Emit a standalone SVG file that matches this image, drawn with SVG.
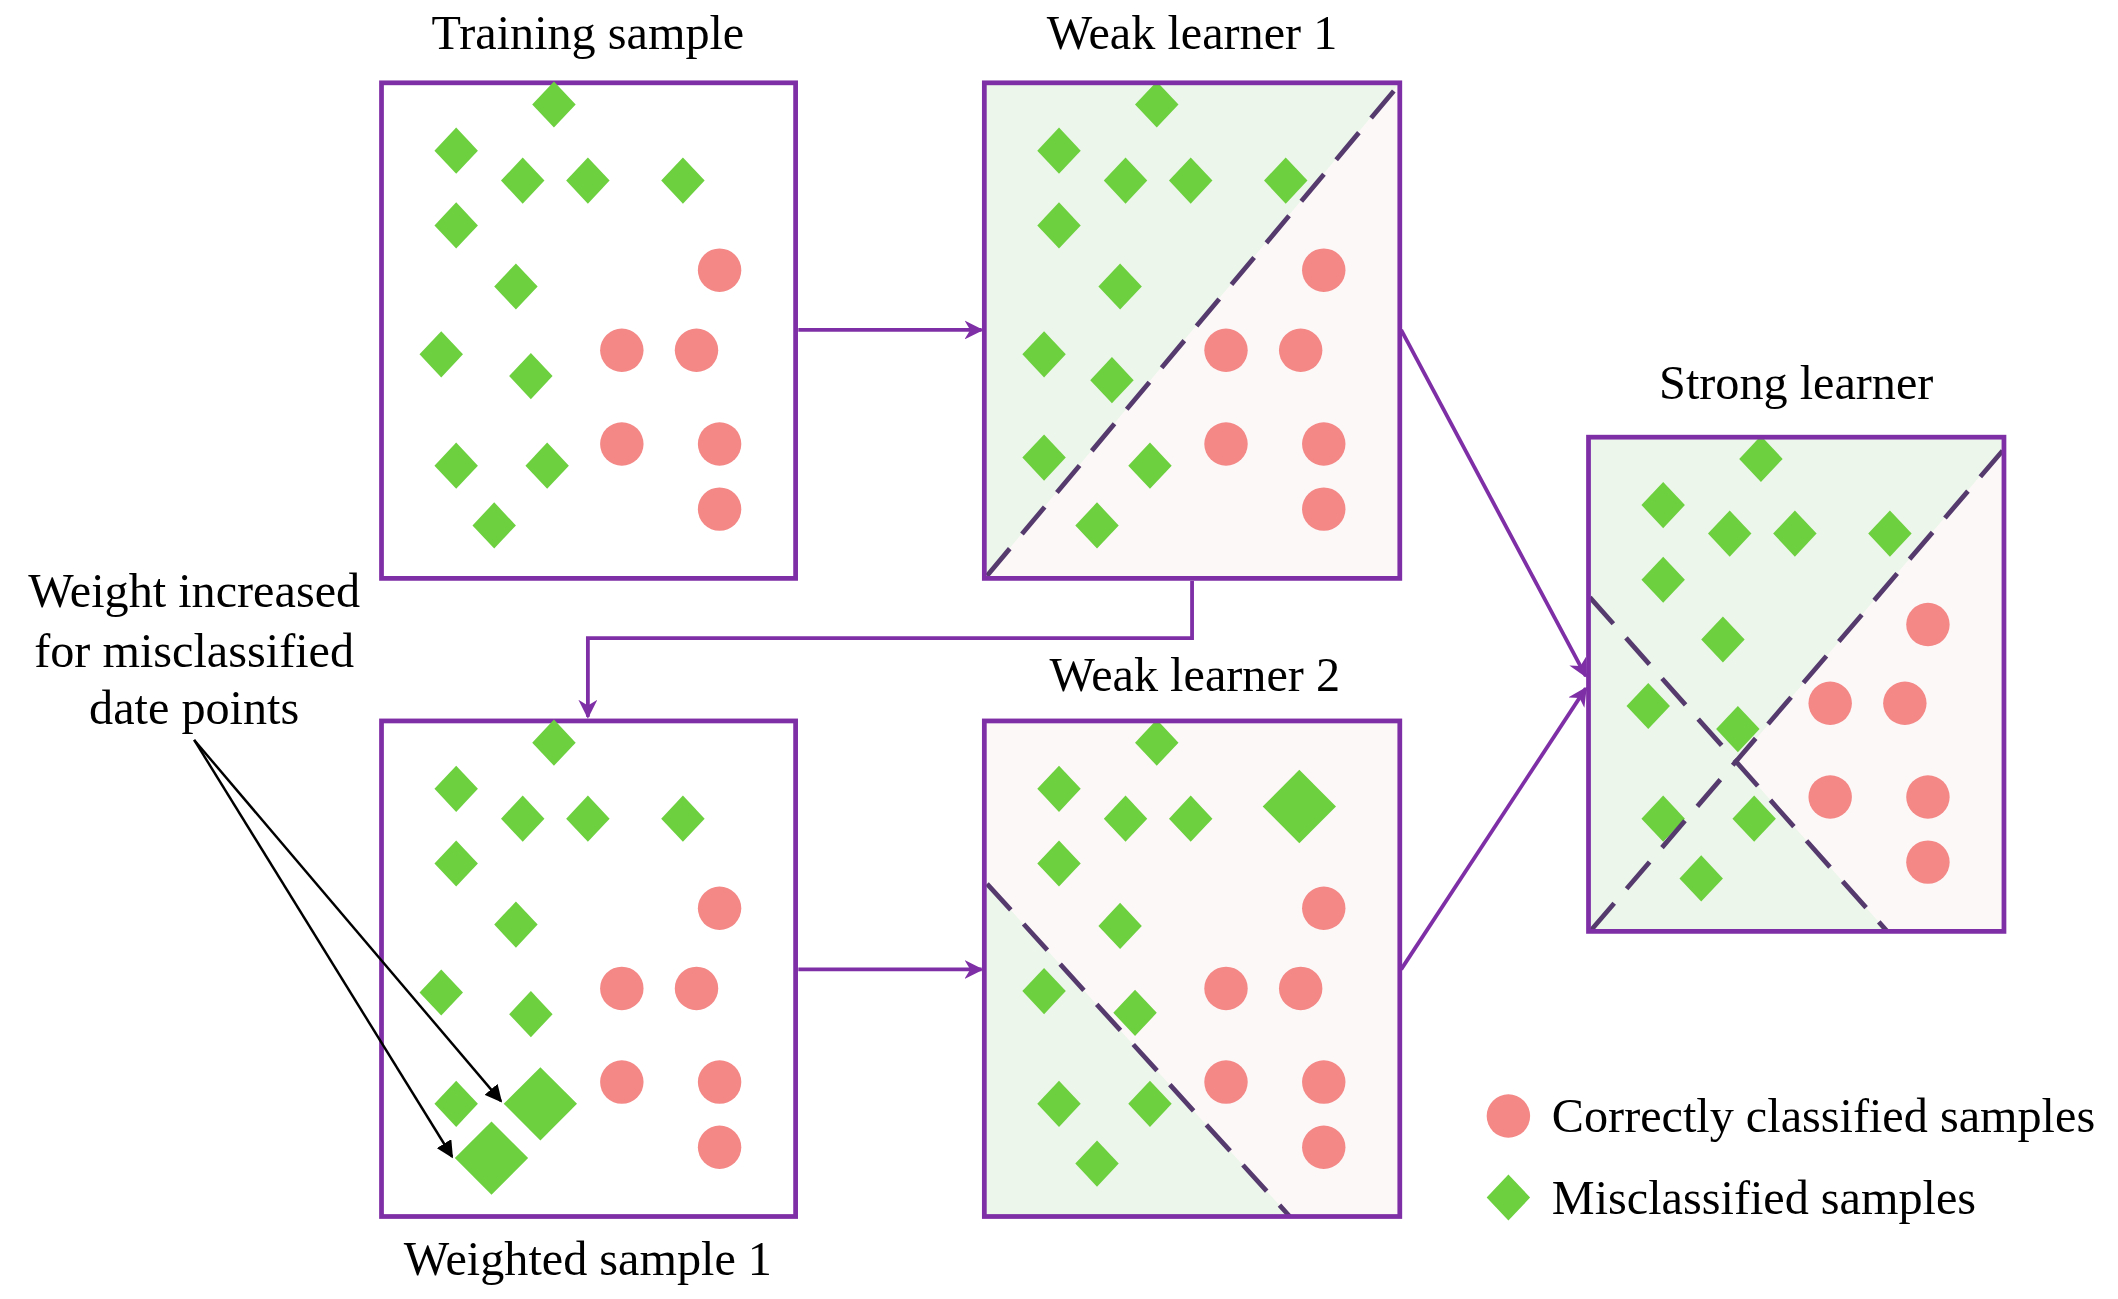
<svg xmlns="http://www.w3.org/2000/svg" xmlns:xlink="http://www.w3.org/1999/xlink" width="2118" height="1299" viewBox="0 0 2118 1299">
<style>
.t{font-family:"Liberation Serif",serif;font-size:35.5px;fill:#000}
.box{fill:none;stroke:#7f2fa6;stroke-width:3.5}
.d{fill:#6cd03f}
.c{fill:#f38887}
.dash{stroke:#553a6e;stroke-width:3.5;stroke-dasharray:26,14;fill:none}
.con{stroke:#7f2fa6;stroke-width:2.8;fill:none}
.blk{stroke:#000;stroke-width:1.8;fill:none}
</style>
<defs>
<path id="dm" d="M0,-17 L16,0 L0,17 L-16,0 Z"/>
<path id="dmb" d="M0,-27 L27,0 L0,27 L-27,0 Z"/>
<marker id="ap" viewBox="0 0 10 10" refX="9" refY="5" markerWidth="5" markerHeight="5" orient="auto"><path d="M0,0 L10,5 L0,10 L3,5 Z" fill="#7f2fa6"/></marker>
<marker id="ab" viewBox="0 0 10 10" refX="9" refY="5" markerWidth="7" markerHeight="7" orient="auto"><path d="M0,0 L10,5 L0,10 Z" fill="#000"/></marker>
</defs>
<rect width="2118" height="1299" fill="#fff"/>
<g transform="scale(1.3577)">
<g id="training">
<text class="t" x="433" y="36" text-anchor="middle">Training sample</text>
<rect class="box" x="281" y="61" width="305" height="365"/>
<g class="d"><use href="#dm" x="408" y="77"/><use href="#dm" x="336" y="111"/><use href="#dm" x="385" y="133"/><use href="#dm" x="433" y="133"/><use href="#dm" x="503" y="133"/><use href="#dm" x="336" y="166"/><use href="#dm" x="380" y="211"/><use href="#dm" x="325" y="261"/><use href="#dm" x="391" y="277"/><use href="#dm" x="336" y="343"/><use href="#dm" x="403" y="343"/><use href="#dm" x="364" y="387"/></g>
<g class="c"><circle cx="530" cy="199" r="16"/><circle cx="458" cy="258" r="16"/><circle cx="513" cy="258" r="16"/><circle cx="458" cy="327" r="16"/><circle cx="530" cy="327" r="16"/><circle cx="530" cy="375" r="16"/></g>
</g>
<g id="weak1">
<text class="t" x="878" y="36" text-anchor="middle">Weak learner 1</text>
<rect x="725" y="61" width="306" height="365" fill="#ecf6ea"/>
<path d="M725,426 L1031,61 L1031,426 Z" fill="#fdf8f8"/>
<g class="d"><use href="#dm" x="852" y="77"/><use href="#dm" x="780" y="111"/><use href="#dm" x="829" y="133"/><use href="#dm" x="877" y="133"/><use href="#dm" x="947" y="133"/><use href="#dm" x="780" y="166"/><use href="#dm" x="825" y="211"/><use href="#dm" x="769" y="261"/><use href="#dm" x="819" y="280"/><use href="#dm" x="769" y="337"/><use href="#dm" x="847" y="343"/><use href="#dm" x="808" y="387"/></g>
<g class="c"><circle cx="975" cy="199" r="16"/><circle cx="903" cy="258" r="16"/><circle cx="958" cy="258" r="16"/><circle cx="903" cy="327" r="16"/><circle cx="975" cy="327" r="16"/><circle cx="975" cy="375" r="16"/></g>
<path class="dash" d="M727,424 L1030,63"/>
<rect class="box" x="725" y="61" width="306" height="365"/>
</g>
<g id="weighted">
<text class="t" x="433" y="939" text-anchor="middle">Weighted sample 1</text>
<rect class="box" x="281" y="531" width="305" height="365"/>
<g class="d"><use href="#dm" x="408" y="547"/><use href="#dm" x="336" y="581"/><use href="#dm" x="385" y="603"/><use href="#dm" x="433" y="603"/><use href="#dm" x="503" y="603"/><use href="#dm" x="336" y="636"/><use href="#dm" x="380" y="681"/><use href="#dm" x="325" y="731"/><use href="#dm" x="391" y="747"/><use href="#dm" x="336" y="813"/><use href="#dmb" x="398" y="813"/><use href="#dmb" x="362" y="853"/></g>
<g class="c"><circle cx="530" cy="669" r="16"/><circle cx="458" cy="728" r="16"/><circle cx="513" cy="728" r="16"/><circle cx="458" cy="797" r="16"/><circle cx="530" cy="797" r="16"/><circle cx="530" cy="845" r="16"/></g>
</g>
<g id="weak2">
<text class="t" x="880" y="509" text-anchor="middle">Weak learner 2</text>
<rect x="725" y="531" width="306" height="365" fill="#fdf8f8"/>
<path d="M725,649 L950,896 L725,896 Z" fill="#ecf6ea"/>
<g class="d"><use href="#dm" x="852" y="547"/><use href="#dm" x="780" y="581"/><use href="#dm" x="829" y="603"/><use href="#dm" x="877" y="603"/><use href="#dmb" x="957" y="594"/><use href="#dm" x="780" y="636"/><use href="#dm" x="825" y="682"/><use href="#dm" x="769" y="730"/><use href="#dm" x="836" y="746"/><use href="#dm" x="780" y="813"/><use href="#dm" x="847" y="813"/><use href="#dm" x="808" y="857"/></g>
<g class="c"><circle cx="975" cy="669" r="16"/><circle cx="903" cy="728" r="16"/><circle cx="958" cy="728" r="16"/><circle cx="903" cy="797" r="16"/><circle cx="975" cy="797" r="16"/><circle cx="975" cy="845" r="16"/></g>
<path class="dash" d="M727,651 L950,896"/>
<rect class="box" x="725" y="531" width="306" height="365"/>
</g>
<g id="strong">
<text class="t" x="1323" y="294" text-anchor="middle">Strong learner</text>
<rect x="1170" y="322" width="306" height="364" fill="#ecf6ea"/>
<path d="M1279,561 L1476,330 L1476,686 L1390,686 Z" fill="#fdf8f8"/>
<g class="d"><use href="#dm" x="1297" y="338"/><use href="#dm" x="1225" y="372"/><use href="#dm" x="1274" y="393"/><use href="#dm" x="1322" y="393"/><use href="#dm" x="1392" y="393"/><use href="#dm" x="1225" y="427"/><use href="#dm" x="1269" y="471"/><use href="#dm" x="1214" y="520"/><use href="#dm" x="1280" y="537"/><use href="#dm" x="1225" y="603"/><use href="#dm" x="1292" y="603"/><use href="#dm" x="1253" y="647"/></g>
<g class="c"><circle cx="1420" cy="460" r="16"/><circle cx="1348" cy="518" r="16"/><circle cx="1403" cy="518" r="16"/><circle cx="1348" cy="587" r="16"/><circle cx="1420" cy="587" r="16"/><circle cx="1420" cy="635" r="16"/></g>
<path class="dash" d="M1172,685 L1475,332"/>
<path class="dash" d="M1171,440 L1390,686"/>
<rect class="box" x="1170" y="322" width="306" height="364"/>
</g>
<g id="annotation">
<text class="t" x="143" y="447" text-anchor="middle">Weight increased</text>
<text class="t" x="143" y="491" text-anchor="middle">for misclassified</text>
<text class="t" x="143" y="533" text-anchor="middle">date points</text>
</g>
<g id="legend">
<circle class="c" cx="1111" cy="822" r="16"/>
<text class="t" x="1143" y="834">Correctly classified samples</text>
<use class="d" href="#dm" x="1111" y="882"/>
<text class="t" x="1143" y="894">Misclassified samples</text>
</g>
<g id="connectors">
<path class="con" d="M588,243 L723,243" marker-end="url(#ap)"/>
<path class="con" d="M878,428 L878,470 L433,470 L433,528" marker-end="url(#ap)"/>
<path class="con" d="M588,714 L723,714" marker-end="url(#ap)"/>
<path class="con" d="M1032,243 L1168,498" marker-end="url(#ap)"/>
<path class="con" d="M1032,714 L1168,507" marker-end="url(#ap)"/>
<path class="blk" d="M143,545 L369,811" marker-end="url(#ab)"/>
<path class="blk" d="M143,545 L333,852" marker-end="url(#ab)"/>
</g>
</g>
</svg>
